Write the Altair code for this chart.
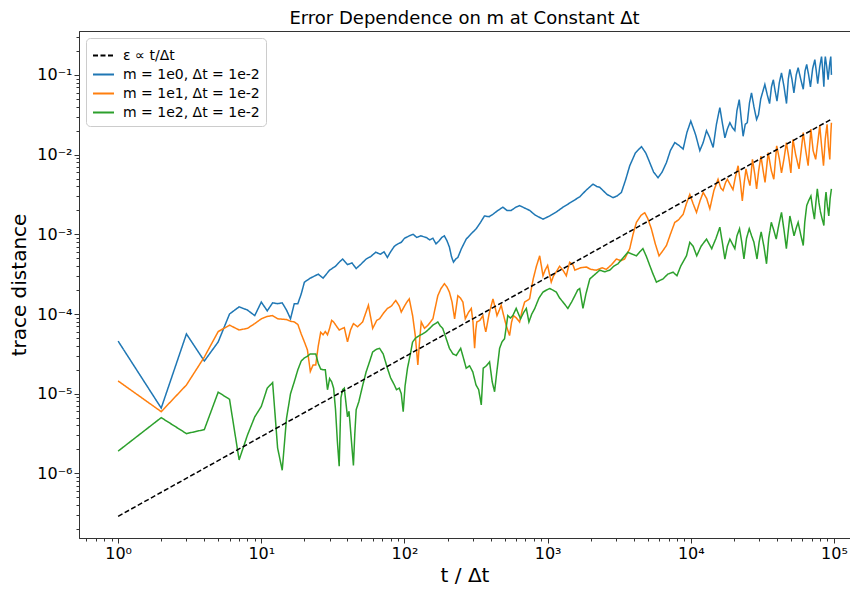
import altair as alt
import pandas as pd

# ---- values (x = t/Δt, y given as log10 of trace distance) ----
blue_x = [1, 2, 3, 4, 5, 6, 7, 8, 9, 10, 11, 12, 13, 14, 15, 16, 17, 18, 19, 20,
          22, 25, 27, 30, 33, 35, 37, 40, 43, 46, 50, 54, 58, 63, 68, 72, 76, 80, 85, 90,
          95, 100, 108, 115, 122, 130, 142, 150, 158, 166, 175, 182, 190, 198, 206, 213, 220, 228, 236, 250,
          270, 290, 317, 340, 362, 390, 414, 450, 487, 520, 557, 600, 637, 690, 748, 820, 928, 1033, 1150, 1280,
          1450, 1675, 1850, 2075, 2200, 2310, 2600, 2865, 3050, 3275, 3500, 3745, 4100, 4520, 4850, 5165, 5500, 5905, 6300, 6760,
          7200, 7730, 8200, 8840, 9400, 10000, 10800, 11560, 12200, 12870, 13500, 14320, 15100, 15950, 16600, 17300, 18000, 18750, 19500, 20300,
          21000, 21800, 22500, 23200, 24000, 24800, 25700, 26550, 27600, 28800, 29700, 30800, 32900, 34200, 35500, 36600, 37700, 38800, 40000, 41500,
          43000, 44800, 46600, 48000, 49200, 50800, 52500, 54500, 56200, 58500, 61000, 62800, 64500, 66500, 68500, 71000, 73500, 75200, 77000, 79500,
          81900, 83500, 85000, 86200, 87000, 89000, 91000, 93500, 95000, 96000]
blue_log = [-4.34, -5.18, -4.25, -4.59, -4.35, -4.00, -3.91, -3.95, -4.02, -3.85, -3.96, -3.86, -3.87, -3.86, -3.95, -4.06, -3.87, -3.87, -3.75, -3.60,
            -3.55, -3.50, -3.55, -3.45, -3.40, -3.35, -3.31, -3.38, -3.36, -3.43, -3.37, -3.31, -3.28, -3.225, -3.25, -3.22, -3.29, -3.22, -3.15, -3.12,
            -3.10, -3.05, -3.02, -3.00, -3.04, -3.02, -3.04, -3.07, -3.05, -3.12, -3.08, -3.04, -3.02, -3.08, -3.16, -3.28, -3.35, -3.31, -3.29, -3.18,
            -3.06, -3.00, -2.93, -2.85, -2.77, -2.78, -2.75, -2.70, -2.66, -2.70, -2.70, -2.66, -2.64, -2.67, -2.70, -2.76, -2.81, -2.77, -2.72, -2.66,
            -2.60, -2.53, -2.45, -2.37, -2.40, -2.41, -2.50, -2.54, -2.52, -2.475, -2.32, -2.14, -1.98, -1.90, -1.98, -2.10, -2.22, -2.29, -2.22, -2.10,
            -1.95, -1.85, -1.88, -1.93, -1.72, -1.58, -1.75, -1.95, -1.85, -1.70, -1.78, -1.91, -1.62, -1.41, -1.60, -1.79, -1.68, -1.60, -1.66, -1.70,
            -1.45, -1.31, -1.55, -1.77, -1.62, -1.60, -1.35, -1.225, -1.40, -1.56, -1.50, -1.30, -1.12, -1.25, -1.36, -1.15, -1.06, -1.20, -1.33, -1.10,
            -0.975, -1.15, -1.36, -1.05, -0.93, -1.05, -1.225, -1.00, -0.91, -1.05, -1.18, -0.95, -0.87, -1.00, -1.15, -0.92, -0.81, -0.95, -1.11, -0.90,
            -0.77, -0.95, -1.15, -0.85, -0.77, -0.90, -1.06, -0.85, -0.77, -1.00]

orange_x = [1, 2, 3, 4, 5, 6, 7, 8, 9, 10, 11, 12, 13, 14, 15, 16, 17, 18, 19, 20,
            21, 22, 23, 24, 25, 26, 27, 28, 29, 30, 31, 32, 35, 38, 40, 42, 44, 47, 51, 56,
            60, 64, 67, 72, 76, 81, 87, 92, 95, 100, 104, 108, 114, 119, 124, 128, 131, 138, 146, 158,
            165, 171, 180, 190, 198, 206, 215, 224, 236, 246, 256, 266, 280, 293, 301, 309, 315, 320, 336, 353,
            362, 370, 390, 415, 430, 443, 460, 474, 490, 513, 542, 560, 577, 605, 637, 665, 691, 720, 748, 770,
            793, 835, 880, 905, 928, 960, 1000, 1030, 1060, 1100, 1150, 1213, 1280, 1350, 1425, 1500, 1550, 1700, 1865, 2000,
            2190, 2400, 2570, 2800, 3020, 3250, 3450, 3745, 3950, 4170, 4500, 4770, 5000, 5300, 5650, 6000, 6300, 6760, 7200, 7730,
            8200, 8840, 9300, 9840, 10400, 10960, 11600, 12200, 12900, 13580, 14500, 15500, 16200, 16800, 17500, 18000, 18900, 19700, 20500, 21400,
            22200, 22900, 23600, 24300, 25100, 25900, 26950, 28000, 28800, 29800, 30900, 32000, 33000, 34700, 36500, 38000, 39800, 41500, 43000, 44800,
            46500, 48500, 50000, 51700, 54000, 57000, 59000, 61000, 63500, 66000, 69000, 71500, 74500, 77000, 79600, 82000, 84500, 87000, 89500, 91500,
            93500, 95000, 96000]
orange_log = [-4.84, -5.225, -4.89, -4.54, -4.22, -4.14, -4.20, -4.18, -4.12, -4.06, -4.03, -4.02, -4.06, -4.065, -4.07, -4.09, -4.10, -4.13, -4.25, -4.35,
              -4.45, -4.72, -4.64, -4.64, -4.40, -4.23, -4.26, -4.22, -4.26, -4.18, -4.08, -4.10, -4.20, -4.17, -4.35, -4.20, -4.12, -4.16, -4.10, -3.89,
              -4.18, -4.08, -4.06, -3.98, -3.93, -3.90, -3.83, -3.90, -3.975, -3.90, -3.85, -3.81, -4.02, -4.27, -4.64, -4.30, -4.10, -4.18, -4.14, -4.06,
              -3.90, -3.77, -3.68, -3.62, -3.66, -3.725, -3.85, -4.06, -3.77, -3.80, -3.85, -4.06, -3.98, -3.93, -4.10, -4.43, -4.20, -4.10, -4.08, -4.02,
              -4.15, -4.225, -4.00, -3.81, -3.92, -4.02, -3.95, -3.89, -4.00, -4.14, -4.27, -4.10, -4.02, -4.05, -4.10, -3.95, -3.85, -3.83, -3.81, -3.68,
              -3.56, -3.40, -3.27, -3.40, -3.52, -3.45, -3.39, -3.50, -3.60, -3.52, -3.47, -3.40, -3.45, -3.52, -3.35, -3.38, -3.45, -3.42, -3.41, -3.44,
              -3.45, -3.42, -3.44, -3.38, -3.31, -3.33, -3.31, -3.18, -3.00, -2.85, -2.76, -2.73, -2.80, -2.93, -3.12, -3.27, -3.22, -3.14, -3.00, -2.85,
              -2.82, -2.75, -2.62, -2.50, -2.62, -2.725, -2.58, -2.475, -2.55, -2.68, -2.45, -2.31, -2.42, -2.45, -2.35, -2.31, -2.38, -2.44, -2.28, -2.14,
              -2.35, -2.58, -2.35, -2.18, -2.30, -2.39, -2.06, -2.25, -2.43, -2.20, -2.02, -2.20, -2.35, -1.975, -2.20, -2.31, -1.89, -2.05, -2.23, -2.05,
              -1.85, -2.05, -2.23, -1.81, -2.00, -2.18, -1.95, -1.725, -1.95, -2.14, -1.68, -1.95, -2.06, -1.85, -1.64, -1.90, -2.14, -1.80, -1.62, -1.90,
              -2.06, -1.75, -1.60]

green_x = [1, 2, 3, 4, 5, 6, 7, 8, 9, 10, 11, 12, 13, 14, 15, 16, 17, 18, 19, 20,
           21, 22, 23, 24, 25, 26, 27, 28, 29, 30, 31, 32, 33, 34, 35, 36, 37, 38, 40, 41,
           42, 44, 45, 46, 48, 51, 54, 57, 60, 64, 67, 71, 76, 80, 85, 88, 92, 95, 98, 101,
           105, 110, 114, 120, 127, 134, 141, 150, 158, 171, 178, 185, 195, 206, 218, 230, 247, 258, 270, 285,
           300, 316, 330, 344, 355, 373, 393, 410, 426, 440, 462, 480, 500, 515, 527, 550, 571, 603, 647, 680,
           710, 740, 775, 813, 870, 928, 980, 1033, 1090, 1150, 1213, 1280, 1385, 1470, 1550, 1620, 1675, 1765, 1850, 1970,
           2150, 2310, 2500, 2715, 2900, 3100, 3350, 3630, 3900, 4170, 4400, 4630, 4900, 5165, 5450, 5755, 6050, 6400, 6900, 7520,
           8000, 8500, 9330, 9840, 10380, 11000, 11800, 12870, 14000, 15000, 15950, 16600, 17300, 18000, 18750, 19500, 20300, 21000, 21900, 22700,
           23500, 24500, 25600, 26600, 27600, 29000, 30000, 31000, 32400, 33800, 35000, 36500, 38000, 39500, 41200, 43000, 44800, 46500, 48000, 49200,
           51000, 52600, 54500, 56200, 58500, 61000, 62500, 64500, 66500, 69000, 71000, 73000, 74800, 76500, 78500, 80500, 82500, 85000, 86500, 88000,
           90000, 92000, 94000, 96000]
green_log = [-5.72, -5.30, -5.50, -5.45, -4.98, -5.07, -5.83, -5.52, -5.29, -5.16, -4.93, -4.86, -5.68, -5.96, -5.31, -5.00, -4.85, -4.70, -4.59, -4.55,
             -4.53, -4.50, -4.50, -4.50, -4.62, -4.69, -4.70, -4.70, -4.95, -4.81, -4.85, -4.93, -5.20, -5.60, -5.91, -5.05, -4.95, -4.93, -5.29, -5.22,
             -5.45, -5.90, -5.50, -5.20, -5.10, -4.90, -4.725, -4.60, -4.475, -4.44, -4.43, -4.50, -4.68, -4.80, -4.89, -4.95, -4.93, -5.00, -5.225, -4.90,
             -4.68, -4.50, -4.35, -4.30, -4.27, -4.25, -4.225, -4.18, -4.14, -4.10, -4.15, -4.18, -4.30, -4.43, -4.50, -4.52, -4.43, -4.55, -4.68, -4.65,
             -4.725, -4.89, -4.95, -5.14, -4.68, -4.65, -4.60, -4.85, -4.975, -4.75, -4.43, -4.35, -4.31, -4.15, -4.02, -4.05, -4.02, -3.93, -4.06, -3.98,
             -3.93, -4.10, -4.00, -3.93, -3.80, -3.725, -3.70, -3.68, -3.70, -3.725, -3.80, -3.85, -3.93, -3.85, -3.77, -3.70, -3.68, -3.93, -3.75, -3.56,
             -3.50, -3.45, -3.47, -3.45, -3.40, -3.37, -3.30, -3.225, -3.25, -3.27, -3.22, -3.18, -3.28, -3.39, -3.50, -3.60, -3.58, -3.56, -3.50, -3.475,
             -3.52, -3.40, -3.27, -3.10, -3.15, -3.27, -3.15, -3.06, -3.18, -3.05, -2.91, -3.10, -3.31, -3.15, -3.06, -3.12, -3.18, -3.02, -2.93, -3.10,
             -3.31, -3.05, -2.93, -3.02, -3.10, -3.31, -3.10, -2.97, -3.15, -3.37, -3.05, -2.85, -2.95, -3.06, -2.88, -2.725, -2.95, -3.18, -2.95, -2.77,
             -2.90, -3.02, -2.92, -2.85, -3.00, -3.14, -2.85, -2.64, -2.58, -2.52, -2.68, -2.81, -2.60, -2.43, -2.60, -2.72, -2.80, -2.89, -2.60, -2.47,
             -2.65, -2.77, -2.55, -2.43]

ref_x = [1, 96000]
ref_y = [2.9e-7, 2.78e-2]

labels = ["ε ∝ t/Δt", "m = 1e0, Δt = 1e-2", "m = 1e1, Δt = 1e-2", "m = 1e2, Δt = 1e-2"]
colors = ["black", "#1f77b4", "#ff7f0e", "#2ca02c"]

frames = []
for lab, xs, ls in [(labels[1], blue_x, blue_log), (labels[2], orange_x, orange_log), (labels[3], green_x, green_log)]:
    frames.append(pd.DataFrame({"x": xs, "y": [10 ** v for v in ls], "series": lab}))
frames.append(pd.DataFrame({"x": ref_x, "y": ref_y, "series": labels[0]}))
df = pd.concat(frames, ignore_index=True)

# axis tick positions (decades labelled, 2..9 minor ticks unlabelled)
x_dom = [0.533, 1.294e5]
y_dom = [1.55e-7, 0.355]
def log_ticks(lo, hi, d0, d1):
    out = []
    for d in range(d0, d1 + 1):
        for m in range(1, 10):
            v = float(f"{m}e{d}")
            if lo <= v <= hi:
                out.append(v)
    return out
x_ticks = log_ticks(x_dom[0], x_dom[1], -1, 5)
y_ticks = log_ticks(y_dom[0], y_dom[1], -7, -1)

is_dec = "abs(log(datum.value)/LN10 - round(log(datum.value)/LN10)) < 0.001"
sup = "'' + round(log(datum.value)/LN10)"
for a, b in [("-", "⁻"), ("0", "⁰"), ("1", "¹"), ("2", "²"), ("3", "³"), ("4", "⁴"), ("5", "⁵"), ("6", "⁶"), ("7", "⁷")]:
    sup = f"replace({sup}, '{a}', '{b}')"
label_expr = f"{is_dec} ? ('10' + {sup}) : ''"
tick_size = {"condition": {"test": is_dec, "value": 5}, "value": 3}

chart = alt.Chart(df).mark_line(strokeWidth=1.5, clip=True).encode(
    x=alt.X("x:Q", scale=alt.Scale(type="log", domain=x_dom, nice=False),
            axis=alt.Axis(title="t / Δt", values=x_ticks, labelExpr=label_expr, tickSize=tick_size,
                          labelOverlap=False, labelFlush=False, labelPadding=2, titlePadding=4)),
    y=alt.Y("y:Q", scale=alt.Scale(type="log", domain=y_dom, nice=False),
            axis=alt.Axis(title="trace distance", values=y_ticks, labelExpr=label_expr, tickSize=tick_size,
                          labelOverlap=False, labelFlush=False, labelPadding=2, titlePadding=7)),
    color=alt.Color("series:N", scale=alt.Scale(domain=labels, range=colors),
                    legend=alt.Legend(title=None)),
    strokeDash=alt.StrokeDash("series:N", scale=alt.Scale(domain=labels, range=[[5, 2.5], [1, 0], [1, 0], [1, 0]]),
                              legend=alt.Legend(title=None)),
    order=alt.Order("x:Q"),
).properties(
    width=771, height=507,
    title="Error Dependence on m at Constant Δt",
    padding={"left": 1, "top": 1, "right": 0, "bottom": 0},
).configure_view(
    stroke="#333333", strokeWidth=1
).configure_axis(
    domainColor="#333333", tickColor="#333333", labelColor="black", titleColor="black", grid=False,
    labelFont="DejaVu Sans", titleFont="DejaVu Sans", titleFontWeight="normal",
    labelFontSize=16, titleFontSize=20
).configure_legend(
    orient="top-left", offset=7, fillColor="white", strokeColor="#cccccc", cornerRadius=4, padding=6,
    labelFont="DejaVu Sans", labelFontSize=14, labelLimit=300, symbolSize=441, symbolStrokeWidth=2,
    rowPadding=0, labelOffset=8
).configure_title(
    font="DejaVu Sans", fontSize=18, fontWeight="normal", color="black", offset=1
)

chart.save("out.html", embed_options={"renderer": "svg", "actions": False})
